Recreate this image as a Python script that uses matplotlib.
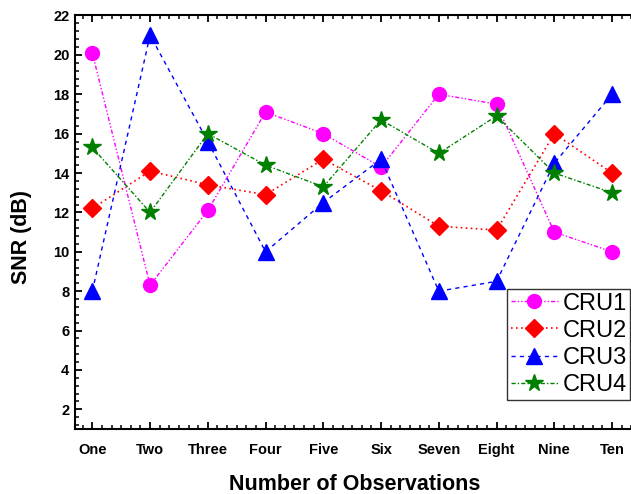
import matplotlib
matplotlib.use("Agg")
import matplotlib.pyplot as plt
from matplotlib.ticker import MultipleLocator, AutoMinorLocator

plt.rcParams["font.family"] = ["Liberation Sans", "DejaVu Sans"]

OBS = ["One", "Two", "Three", "Four", "Five", "Six", "Seven", "Eight", "Nine", "Ten"]

CRU1 = [20.1, 8.3, 12.1, 17.1, 16.0, 14.3, 18.0, 17.5, 11.0, 10.0]
CRU2 = [12.2, 14.1, 13.4, 12.9, 14.7, 13.1, 11.3, 11.1, 16.0, 14.0]
CRU3 = [8.0, 21.0, 15.6, 10.0, 12.5, 14.7, 8.0, 8.5, 14.5, 18.0]
CRU4 = [15.3, 12.0, 16.0, 14.4, 13.3, 16.7, 15.0, 16.9, 14.0, 13.0]

fig = plt.figure(figsize=(6.31, 4.94), dpi=100)
W, H = 631, 494
# axes runs a little past the right edge of the figure
ax = fig.add_axes([75 / W, (H - 429) / H, (634 - 75) / W, (429 - 15.5) / H])

x = list(range(1, len(OBS) + 1))
ax.plot(x, CRU1, color="magenta", linestyle=(0, (3, 1.5, 1, 1.5, 1, 1.5)), linewidth=1,
        marker="o", markersize=10, label="CRU1")
ax.plot(x, CRU2, color="red", linestyle=(0, (1, 2)), linewidth=1.2,
        marker="D", markersize=9, label="CRU2")
ax.plot(x, CRU3, color="blue", linestyle=(0, (3, 3)), linewidth=1,
        marker="^", markersize=11, label="CRU3")
ax.plot(x, CRU4, color="green", linestyle=(0, (3, 1.5, 1, 1.5)), linewidth=1,
        marker="*", markersize=13, label="CRU4")

ax.set_xlim(0.7, 10.38)
ax.set_ylim(1, 22)
ax.set_xticks(x)
ax.set_xticklabels(OBS)
ax.xaxis.set_minor_locator(AutoMinorLocator(6))
ax.yaxis.set_major_locator(MultipleLocator(2))
ax.yaxis.set_minor_locator(AutoMinorLocator(5))
ax.set_yticks(range(2, 23, 2))

for lab in ax.get_xticklabels() + ax.get_yticklabels():
    lab.set_fontweight("bold")
    lab.set_fontsize(10.5)

ax.tick_params(which="major", direction="out", length=5, width=1.3, pad=4)
ax.tick_params(which="minor", direction="out", length=3, width=1.1)
ax.tick_params(top=True, which="both", direction="in")
ax.tick_params(axis="x", which="major", pad=10)
ax.spines["right"].set_visible(False)
for s in ("left", "bottom", "top"):
    ax.spines[s].set_linewidth(1.5)

ax.set_xlabel("Number of Observations", fontsize=15.5, fontweight="bold", labelpad=12)
ax.set_ylabel("SNR (dB)", fontsize=15.5, fontweight="bold")
ax.yaxis.set_label_coords(-0.077, 0.464)

leg = ax.legend(loc="upper left", bbox_to_anchor=(507 / W, (H - 289) / H),
                bbox_transform=fig.transFigure, fontsize=17, frameon=True,
                fancybox=False, edgecolor="black", handlelength=2.0,
                handletextpad=0.2, labelspacing=0.22, borderpad=0.15,
                borderaxespad=0)
leg.get_frame().set_linewidth(1.0)

fig.savefig("out.png", dpi=100)
